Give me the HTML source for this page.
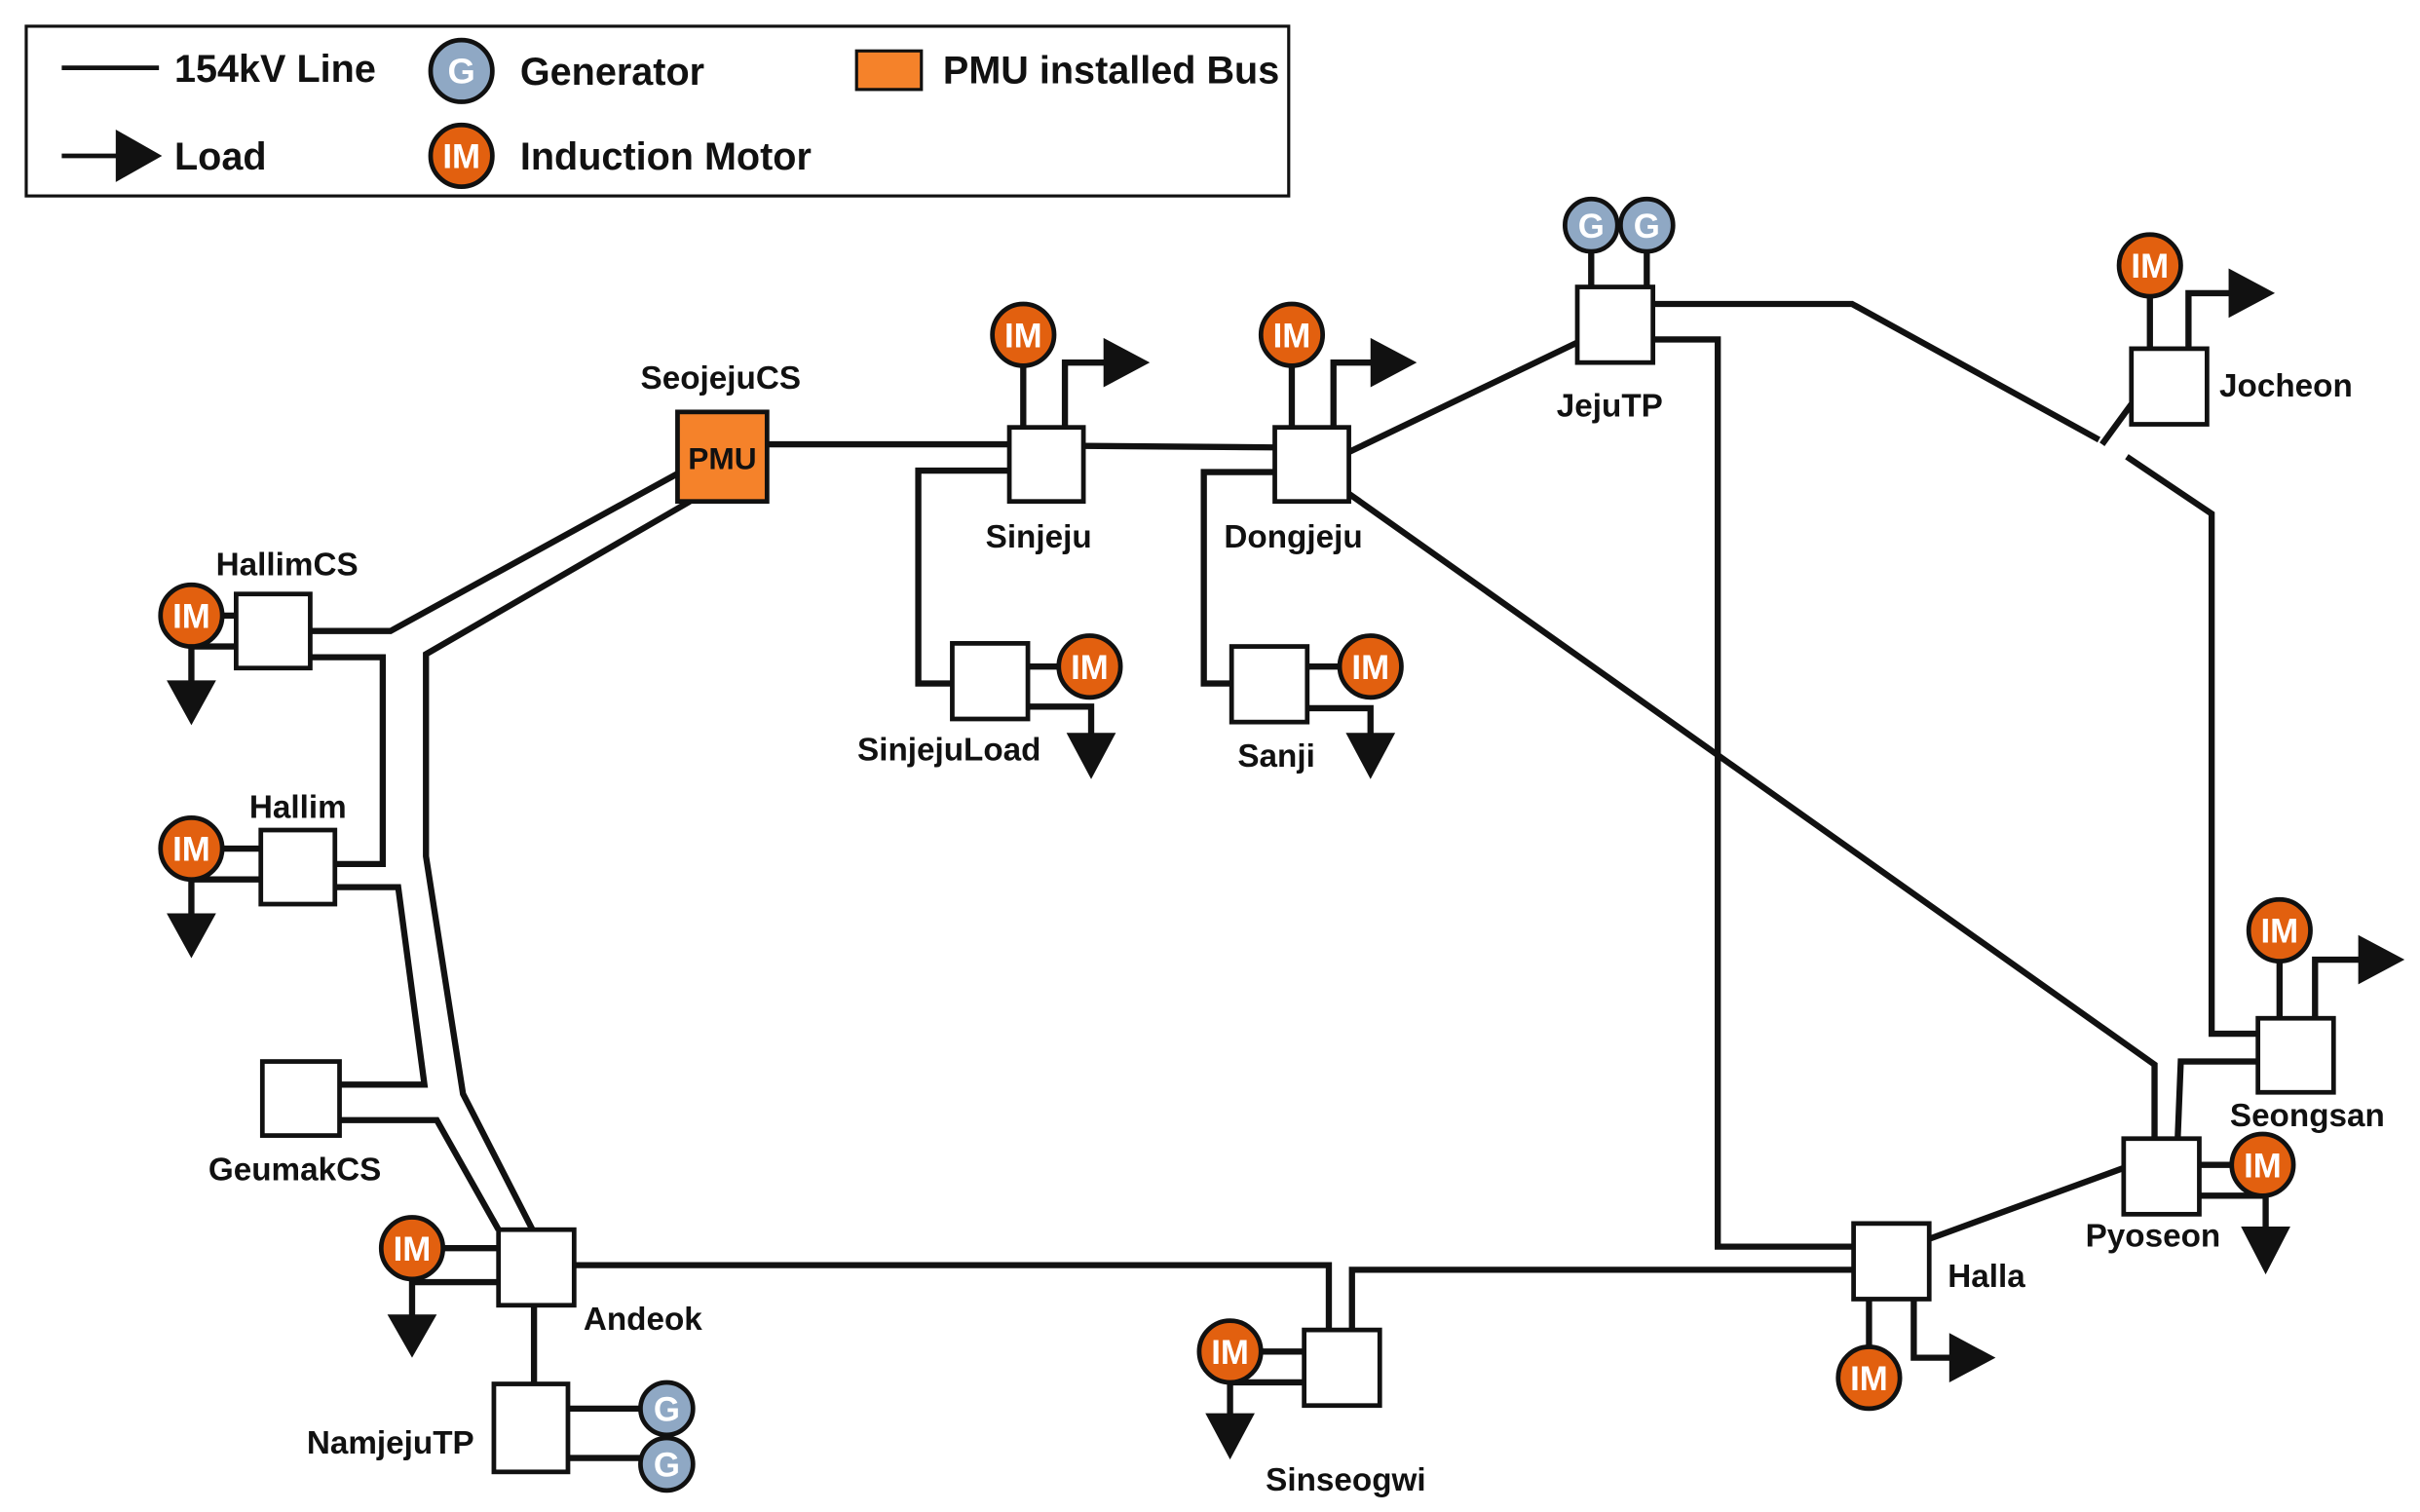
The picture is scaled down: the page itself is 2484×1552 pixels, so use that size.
<!DOCTYPE html>
<html><head><meta charset="utf-8"><style>
html,body{margin:0;padding:0;background:#fff;}
svg{display:block;}
text{font-family:"Liberation Sans",sans-serif;font-weight:bold;fill:#111;}
</style></head><body>
<svg width="2484" height="1552" viewBox="0 0 1568 980" preserveAspectRatio="none" xmlns="http://www.w3.org/2000/svg">
<defs>
<g id="im"><circle r="20" fill="#e2600f" stroke="#111" stroke-width="3"/><text y="8" text-anchor="middle" font-size="22" style="fill:#fff">IM</text></g>
<g id="gen"><circle r="17" fill="#8fa8c4" stroke="#111" stroke-width="3"/><text y="8" text-anchor="middle" font-size="22" style="fill:#fff">G</text></g>
</defs>
<rect x="17" y="17" width="818" height="110" fill="#fff" stroke="#111" stroke-width="2"/>
<line x1="40" y1="44" x2="103" y2="44" stroke="#111" stroke-width="3"/>
<text x="113" y="53" font-size="25">154kV Line</text>
<g transform="translate(299,46)"><circle r="20" fill="#8fa8c4" stroke="#111" stroke-width="3"/><text y="8" text-anchor="middle" font-size="23" style="fill:#fff">G</text></g>
<text x="337" y="55" font-size="25">Generator</text>
<rect x="555" y="33" width="42" height="25" fill="#f5822a" stroke="#111" stroke-width="2"/>
<text x="611" y="54" font-size="25">PMU installed Bus</text>
<line x1="40" y1="101" x2="78" y2="101" stroke="#111" stroke-width="3"/>
<polygon points="75,84 105,101 75,118" fill="#111"/>
<text x="113" y="110" font-size="25">Load</text>
<g transform="translate(299,101)"><circle r="20" fill="#e2600f" stroke="#111" stroke-width="3"/><text y="8" text-anchor="middle" font-size="22" style="fill:#fff">IM</text></g>
<text x="337" y="110" font-size="25">Induction Motor</text>

<g fill="none" stroke="#111" stroke-width="4">
<polyline points="497,288 654,288"/>
<polyline points="702,289 826,290"/>
<polyline points="654,305 595,305 595,443 617,443"/>
<polyline points="826,306 780,306 780,443 798,443"/>
<polyline points="874,293 1022,222"/>
<polyline points="1071,197 1200,197 1360,285"/>
<polyline points="1381,262 1362,288"/>
<polyline points="1378,296 1433,333 1433,670 1463,670"/>
<polyline points="1071,220 1113,220 1113,808 1201,808"/>
<polyline points="874,320 1396,690 1396,738"/>
<polyline points="1463,688 1413,688 1411,738"/>
<polyline points="1250,803 1376,757"/>
<polyline points="1201,823 876,823 876,862"/>
<polyline points="372,820 861,820 861,862"/>
<polyline points="439,307 253,409 201,409"/>
<polyline points="201,426 248,426 248,560 217,560"/>
<polyline points="447,325 276,424 276,555 300,709 345,797"/>
<polyline points="217,575 258,575 275,703 220,703"/>
<polyline points="220,726 283,726 323,797"/>
<polyline points="346,846 346,897"/>
<polyline points="368,913 415,913"/>
<polyline points="368,945 415,945"/>
<polyline points="1031,163 1031,186"/>
<polyline points="1067,163 1067,186"/>
<polyline points="663,237 663,277"/>
<polyline points="837,237 837,277"/>
<polyline points="1393,192 1393,226"/>
<polyline points="144,399 153,399"/>
<polyline points="144,550 169,550"/>
<polyline points="686,432 666,432"/>
<polyline points="868,432 847,432"/>
<polyline points="287,809 323,809"/>
<polyline points="817,876 845,876"/>
<polyline points="1211,873 1211,842"/>
<polyline points="1446,755 1425,755"/>
<polyline points="1477,623 1477,660"/>
<polyline points="690,277 690,235 717,235"/>
<polyline points="864,277 864,235 890,235"/>
<polyline points="1418,226 1418,190 1446,190"/>
<polyline points="1500,660 1500,622 1530,622"/>
<polyline points="1240,842 1240,880 1265,880"/>
<polyline points="153,419 124,419 124,443"/>
<polyline points="169,570 124,570 124,594"/>
<polyline points="666,458 707,458 707,477"/>
<polyline points="847,459 888,459 888,477"/>
<polyline points="323,831 267,831 267,854"/>
<polyline points="845,896 797,896 797,918"/>
<polyline points="1425,775 1468,775 1468,797"/>
</g>
<g fill="#111">
<polygon points="715,219 745,235 715,251"/>
<polygon points="888,219 918,235 888,251"/>
<polygon points="1444,174 1474,190 1444,206"/>
<polygon points="1528,606 1558,622 1528,638"/>
<polygon points="1263,864 1293,880 1263,896"/>
<polygon points="108,441 140,441 124,470"/>
<polygon points="108,592 140,592 124,621"/>
<polygon points="691,475 723,475 707,505"/>
<polygon points="872,475 904,475 888,505"/>
<polygon points="251,852 283,852 267,880"/>
<polygon points="781,916 813,916 797,946"/>
<polygon points="1452,795 1484,795 1468,826"/>
</g>
<g fill="#fff" stroke="#111" stroke-width="3">
<rect x="654" y="277" width="48" height="48"/>
<rect x="826" y="277" width="48" height="48"/>
<rect x="1022" y="186" width="49" height="49"/>
<rect x="1381" y="226" width="49" height="49"/>
<rect x="153" y="385" width="48" height="48"/>
<rect x="169" y="538" width="48" height="48"/>
<rect x="170" y="688" width="50" height="48"/>
<rect x="323" y="797" width="49" height="49"/>
<rect x="320" y="897" width="48" height="57"/>
<rect x="617" y="417" width="49" height="49"/>
<rect x="798" y="419" width="49" height="49"/>
<rect x="845" y="862" width="49" height="49"/>
<rect x="1201" y="793" width="49" height="49"/>
<rect x="1376" y="738" width="49" height="49"/>
<rect x="1463" y="660" width="49" height="48"/>
</g>
<rect x="439" y="267" width="58" height="58" fill="#f5822a" stroke="#111" stroke-width="3"/>
<text x="468" y="304" text-anchor="middle" font-size="20">PMU</text>
<use href="#im" x="663" y="217"/>
<use href="#im" x="837" y="217"/>
<use href="#im" x="1393" y="172"/>
<use href="#im" x="124" y="399"/>
<use href="#im" x="124" y="550"/>
<use href="#im" x="706" y="432"/>
<use href="#im" x="888" y="432"/>
<use href="#im" x="267" y="809"/>
<use href="#im" x="797" y="876"/>
<use href="#im" x="1211" y="893"/>
<use href="#im" x="1466" y="755"/>
<use href="#im" x="1477" y="603"/>
<use href="#gen" x="1031" y="146"/>
<use href="#gen" x="1067" y="146"/>
<use href="#gen" x="432" y="913"/>
<use href="#gen" x="432" y="949"/>
<g font-size="21">
<text x="467" y="252" text-anchor="middle">SeojejuCS</text>
<text x="673" y="355" text-anchor="middle">Sinjeju</text>
<text x="838" y="355" text-anchor="middle">Dongjeju</text>
<text x="1043" y="270" text-anchor="middle">JejuTP</text>
<text x="1438" y="257">Jocheon</text>
<text x="186" y="373" text-anchor="middle">HallimCS</text>
<text x="193" y="530" text-anchor="middle">Hallim</text>
<text x="191" y="765" text-anchor="middle">GeumakCS</text>
<text x="378" y="862">Andeok</text>
<text x="253" y="942" text-anchor="middle">NamjejuTP</text>
<text x="615" y="493" text-anchor="middle">SinjejuLoad</text>
<text x="827" y="497" text-anchor="middle">Sanji</text>
<text x="872" y="966" text-anchor="middle">Sinseogwi</text>
<text x="1262" y="834">Halla</text>
<text x="1395" y="808" text-anchor="middle">Pyoseon</text>
<text x="1495" y="730" text-anchor="middle">Seongsan</text>
</g>
</svg>
</body></html>
